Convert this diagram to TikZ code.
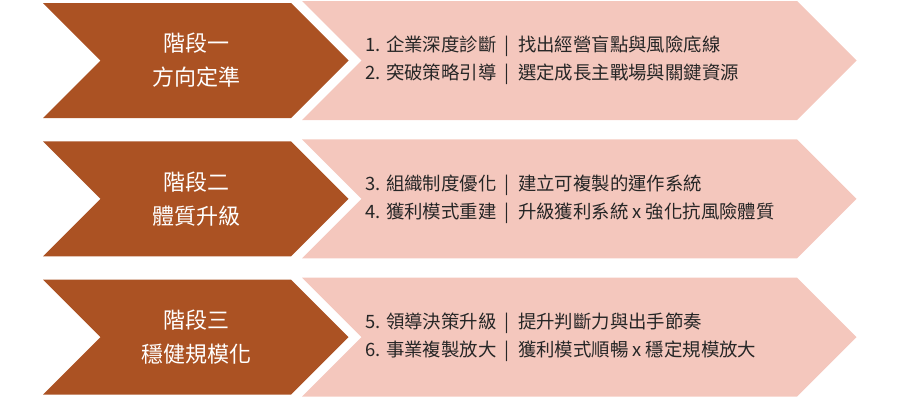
\documentclass[tikz,border=0pt]{standalone}
\usepackage{fontspec}
\setmainfont{Noto Sans CJK TC}
\definecolor{rust}{HTML}{AB5223}
\definecolor{blush}{HTML}{F4C7BD}
\definecolor{ink}{HTML}{262626}
\newcommand{\barsep}{\hspace{0.45em}|\hspace{0.45em}}

\begin{document}
\begin{tikzpicture}[x=0.75pt,y=-0.75pt,stage/.style={fill=rust},task/.style={fill=blush},stagetext/.style={text=white,align=center,inner sep=0pt,font=\fontsize{16.5}{25.5}\selectfont},tasktext/.style={text=ink,align=left,anchor=west,inner sep=0pt,font=\fontsize{13.8}{21}\selectfont}]
  \useasboundingbox (0,0) rectangle (897,400);
  \foreach \c/\i/\a/\b/\p/\q in {60.5/1/{階段一}/{方向定準}/{1. 企業深度診斷\barsep 找出經營盲點與風險底線}/{2. 突破策略引導\barsep 選定成長主戰場與關鍵資源},
    198.8/2/{階段二}/{體質升級}/{3. 組織制度優化\barsep 建立可複製的運作系統}/{4. 獲利模式重建\barsep 升級獲利系統 x 強化抗風險體質},
    337.1/3/{階段三}/{穩健規模化}/{5. 領導決策升級\barsep 提升判斷力與出手節奏}/{6. 事業複製放大\barsep 獲利模式順暢 x 穩定規模放大}} {
    \fill[task] (302,\c-59.5) -- (797,\c-59.5) -- (856.5,\c) -- (797,\c+59.5) -- (302,\c+59.5) -- (361.5,\c) -- cycle;
    \fill[stage] (43,\c-57.5) -- (291,\c-57.5) -- (348.5,\c) -- (291,\c+57.5) -- (43,\c+57.5) -- (100.5,\c) -- cycle;
    \node[stagetext] (stage\i) at (196,\c) {\a\\\b};
    \node[tasktext] (task\i) at (365,\c) {\p\\\q};
  }
\end{tikzpicture}
\end{document}
